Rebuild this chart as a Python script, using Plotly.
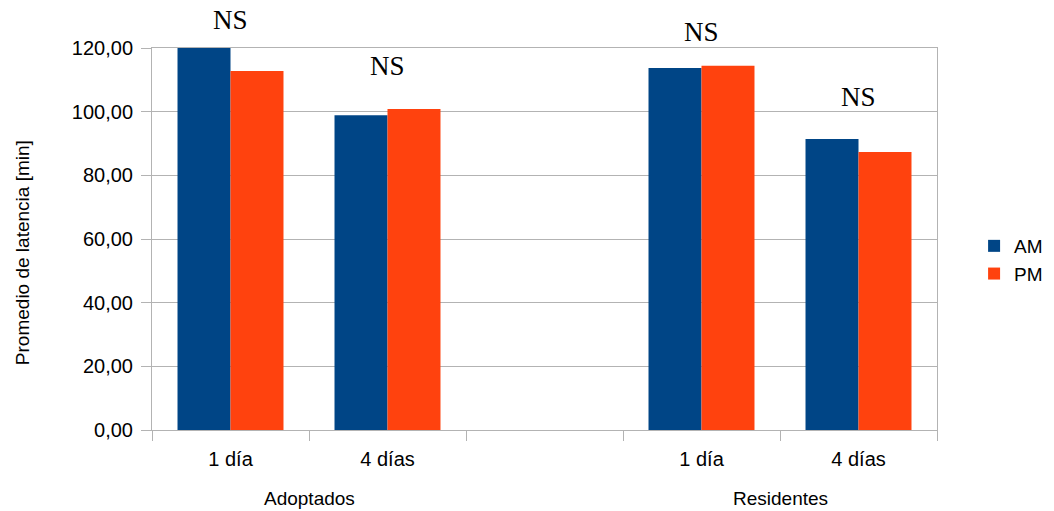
import plotly.graph_objects as go

# Data
tick_labels = ["1 día", "4 días", "1 día", "4 días"]
slot_positions = [0, 1, 3, 4]
group_labels = ["Adoptados", "Residentes"]
am_values = [120.0, 98.9, 113.7, 91.4]
pm_values = [112.8, 100.8, 114.4, 87.3]
sig_labels = ["NS", "NS", "NS", "NS"]
y_ticks = [0, 20, 40, 60, 80, 100, 120]
y_ticktext = ["0,00", "20,00", "40,00", "60,00", "80,00", "100,00", "120,00"]
y_title = "Promedio de latencia [min]"

FONT = "Liberation Sans, Arial, sans-serif"
GRID = "#b3b3b3"
Y_MAX = 120

fig = go.Figure()
fig.add_trace(go.Bar(x=slot_positions, y=am_values, name="AM",
                     marker=dict(color="#004586", line=dict(width=0))))
fig.add_trace(go.Bar(x=slot_positions, y=pm_values, name="PM",
                     marker=dict(color="#ff420e", line=dict(width=0))))

# NS annotations (vertical positions in data units, placed via paper fraction)
ns_y = [128.8, 114.3, 125.0, 104.6]
for xp, yp, t in zip(slot_positions, ns_y, sig_labels):
    fig.add_annotation(x=xp, y=yp / Y_MAX, text=t, showarrow=False, xref="x", yref="paper",
                       font=dict(family="Liberation Serif, Times New Roman, serif", size=27, color="black"),
                       yanchor="middle", borderpad=0)

# group labels
for xp, t in zip([0.5, 3.5], group_labels):
    fig.add_annotation(x=xp, y=0, yref="paper", xref="x", text=t, showarrow=False,
                       yshift=-68, yanchor="middle",
                       font=dict(family=FONT, size=19, color="black"))

# y-axis title
fig.add_annotation(x=0, y=0.463, xref="paper", yref="paper", xshift=-130, text=y_title,
                   textangle=-90, showarrow=False, xanchor="center", yanchor="middle",
                   font=dict(family=FONT, size=19, color="black"))

fig.update_layout(
    width=1046, height=503,
    margin=dict(l=144, r=117, t=40, b=81),
    paper_bgcolor="white", plot_bgcolor="white",
    barmode="group", bargap=0.325, bargroupgap=0,
    font=dict(family=FONT, size=19, color="black"),
    showlegend=True,
    legend=dict(xref="container", yref="container", x=0.9236, y=0.499,
                xanchor="left", yanchor="middle",
                font=dict(family=FONT, size=19, color="black"),
                itemsizing="constant", tracegroupgap=0, itemwidth=30),
)

fig.update_xaxes(
    range=[-0.5, 4.5], automargin=False,
    tickmode="array", tickvals=slot_positions, ticktext=tick_labels,
    ticks="", showgrid=False, ticklabelstandoff=11,
    showline=True, linecolor=GRID, linewidth=1, mirror=True,
    tickfont=dict(family=FONT, size=20, color="black"),
    minor=dict(tickmode="array", tickvals=[-0.5, 0.5, 1.5, 2.5, 3.5, 4.5],
               ticks="outside", ticklen=10, tickcolor=GRID, tickwidth=1, showgrid=False),
    zeroline=False,
)
fig.update_yaxes(
    range=[0, Y_MAX], automargin=False,
    tickmode="array", tickvals=y_ticks, ticktext=y_ticktext,
    ticks="outside", ticklen=10, tickcolor=GRID, tickwidth=1, ticklabelstandoff=4,
    showgrid=True, gridcolor=GRID, gridwidth=1,
    showline=True, linecolor=GRID, linewidth=1, mirror=True,
    zeroline=False,
    tickfont=dict(family=FONT, size=20, color="black"),
)

fig.write_html("out.html")
